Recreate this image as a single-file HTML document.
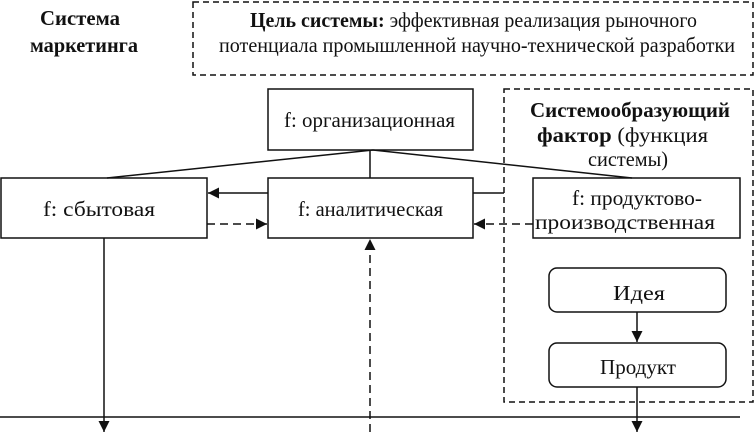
<!DOCTYPE html>
<html><head><meta charset="utf-8"><style>html,body{margin:0;padding:0;background:#fff}svg{display:block}text{font-family:"Liberation Serif",serif;font-size:21px;fill:#111}</style></head><body>
<svg width="756" height="432" viewBox="0 0 756 432" xmlns="http://www.w3.org/2000/svg">
<defs><marker id="a" viewBox="0 0 10 10" refX="10" refY="5" markerWidth="11" markerHeight="11" markerUnits="userSpaceOnUse" orient="auto"><path d="M0,0L10,5L0,10z" fill="#111"/></marker></defs>
<g stroke="#111" stroke-width="1.5" fill="none">
<rect x="193" y="2" width="560" height="73" stroke-dasharray="6,4"/>
<rect x="504" y="89" width="249" height="313" stroke-dasharray="6,4"/>
<rect x="268" y="89" width="205" height="61" fill="#fff"/>
<rect x="1" y="178" width="206" height="60"/>
<rect x="268" y="178" width="205" height="60"/>
<rect x="533" y="178" width="207" height="60"/>
<rect x="549" y="268" width="177" height="44" rx="8"/>
<rect x="549" y="343" width="177" height="44" rx="8"/>
<line x1="373" y1="150" x2="107" y2="178"/>
<line x1="370" y1="150" x2="370" y2="178"/>
<line x1="373" y1="150" x2="632" y2="178"/>
<line x1="268" y1="193" x2="208" y2="193" marker-end="url(#a)"/>
<line x1="473" y1="193" x2="504" y2="193"/>
<line x1="207" y1="224" x2="267" y2="224" stroke-dasharray="8,5" marker-end="url(#a)"/>
<line x1="533" y1="224" x2="474" y2="224" stroke-dasharray="8,5" marker-end="url(#a)"/>
<line x1="0" y1="417" x2="740" y2="417"/>
<line x1="104" y1="238" x2="104" y2="432" marker-end="url(#a)"/>
<line x1="637" y1="387" x2="637" y2="432" marker-end="url(#a)"/>
<line x1="637" y1="312" x2="637" y2="342" marker-end="url(#a)"/>
<line x1="370" y1="432" x2="370" y2="239" stroke-dasharray="8,5" marker-end="url(#a)"/>
</g>
<g>
<text x="40" y="25" textLength="80" lengthAdjust="spacingAndGlyphs" font-weight="bold">Система</text>
<text x="30" y="52" textLength="108" lengthAdjust="spacingAndGlyphs" font-weight="bold">маркетинга</text>
<text x="250" y="27" textLength="447" lengthAdjust="spacingAndGlyphs"><tspan font-weight="bold">Цель системы:</tspan> эффективная реализация рыночного</text>
<text x="219" y="52" textLength="516" lengthAdjust="spacingAndGlyphs">потенциала промышленной научно-технической разработки</text>
<text x="284" y="127" textLength="171" lengthAdjust="spacingAndGlyphs">f: организационная</text>
<text x="43" y="216" textLength="112" lengthAdjust="spacingAndGlyphs">f: сбытовая</text>
<text x="298" y="216" textLength="145" lengthAdjust="spacingAndGlyphs">f: аналитическая</text>
<text x="572" y="205" textLength="130" lengthAdjust="spacingAndGlyphs">f: продуктово-</text>
<text x="535" y="229" textLength="180" lengthAdjust="spacingAndGlyphs">производственная</text>
<text x="530" y="117" textLength="200" lengthAdjust="spacingAndGlyphs" font-weight="bold">Системообразующий</text>
<text x="537" y="142" textLength="171" lengthAdjust="spacingAndGlyphs"><tspan font-weight="bold">фактор</tspan> (функция</text>
<text x="588" y="166" textLength="80" lengthAdjust="spacingAndGlyphs">системы)</text>
<text x="613" y="300" textLength="52" lengthAdjust="spacingAndGlyphs">Идея</text>
<text x="600" y="374" textLength="76" lengthAdjust="spacingAndGlyphs">Продукт</text>
</g>
</svg>
</body></html>
